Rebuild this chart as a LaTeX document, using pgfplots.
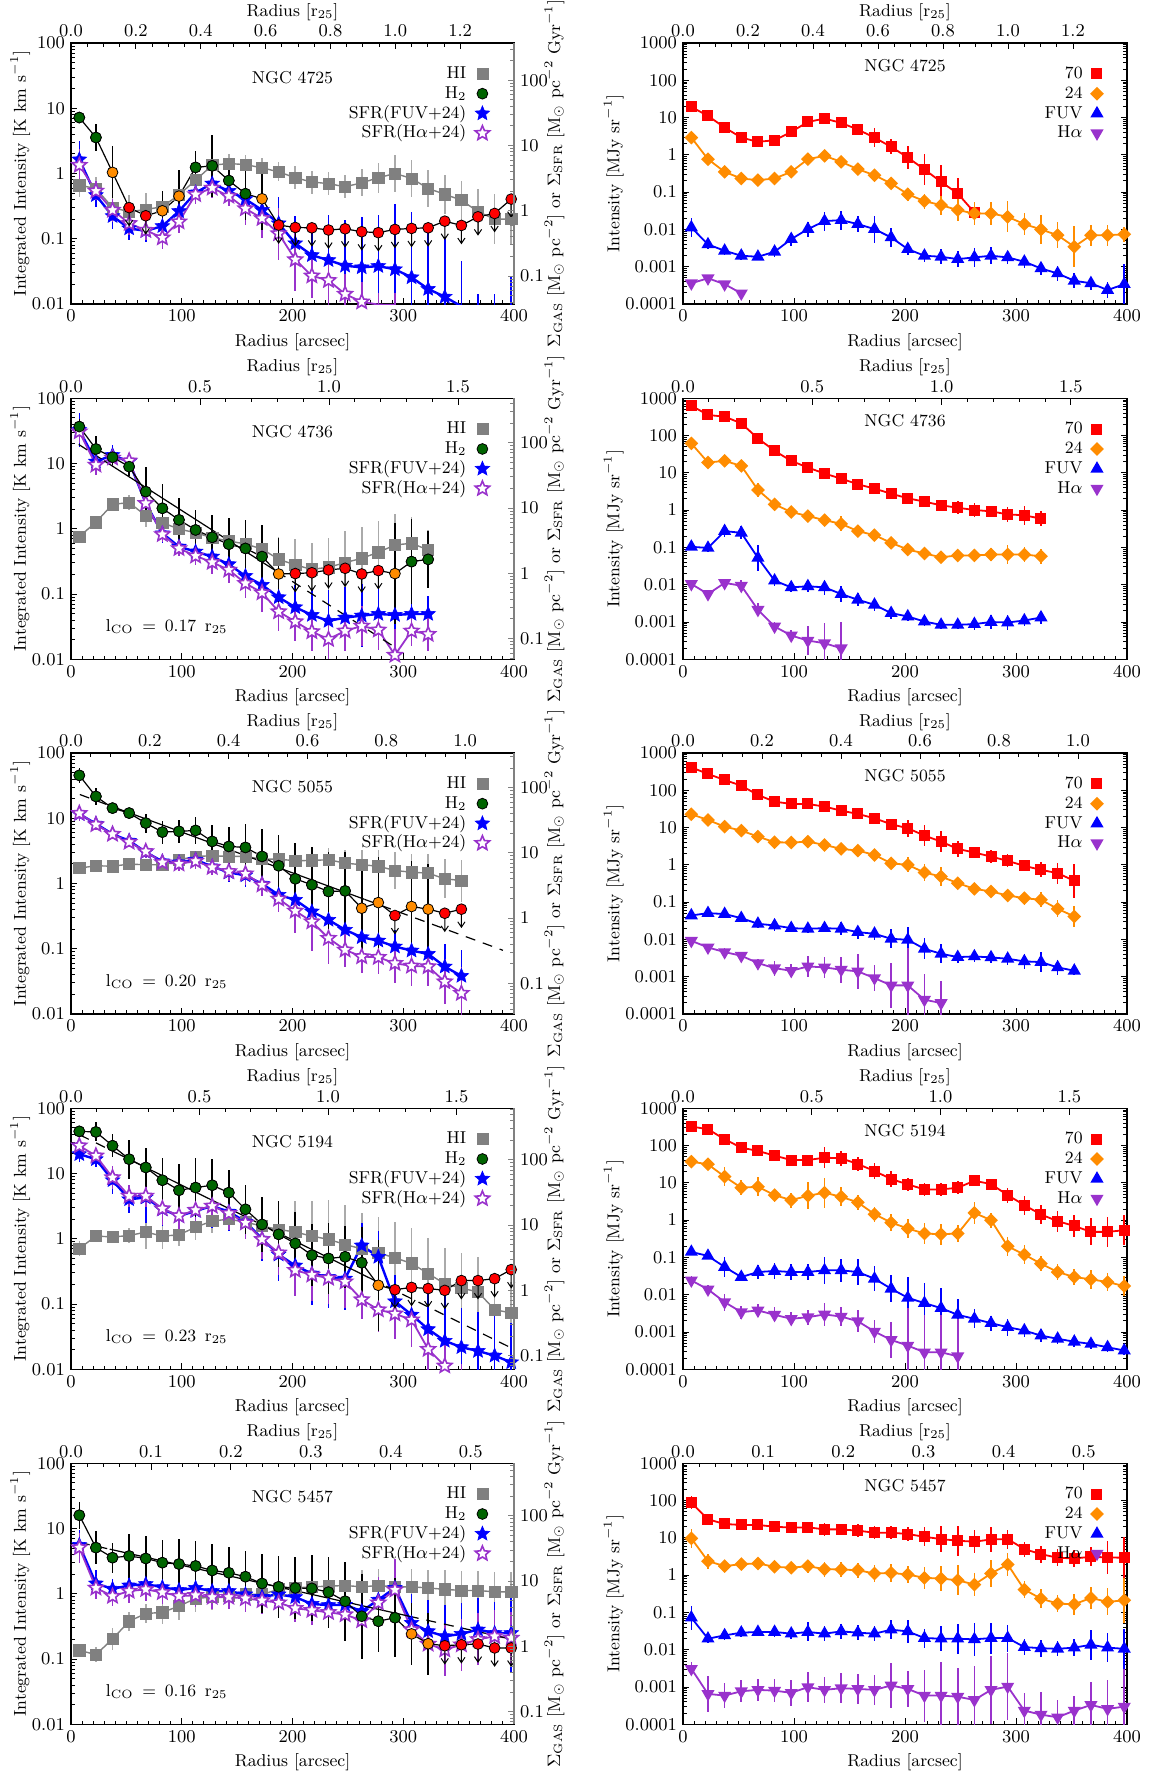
\documentclass[border=0pt]{standalone}
\usepackage{pgfplots}
\usepackage{pgfplotstable}
\pgfplotsset{compat=1.18}
\usetikzlibrary{plotmarks}

\definecolor{cHI}{RGB}{128,128,128}
\definecolor{cHIe}{RGB}{170,170,170}
\definecolor{cgreen}{RGB}{0,100,0}
\definecolor{corange}{RGB}{255,140,0}
\definecolor{cred}{RGB}{255,0,0}
\definecolor{cblue}{RGB}{0,0,255}
\definecolor{cpurple}{RGB}{153,50,204}

\newcommand\fsz{\fontsize{8.6}{10}\selectfont}

\pgfdeclareplotmark{fstar}{%
  \pgfpathmoveto{\pgfpointpolar{90}{\pgfplotmarksize}}%
  \pgfpathlineto{\pgfpointpolar{126}{0.45\pgfplotmarksize}}%
  \pgfpathlineto{\pgfpointpolar{162}{\pgfplotmarksize}}%
  \pgfpathlineto{\pgfpointpolar{198}{0.45\pgfplotmarksize}}%
  \pgfpathlineto{\pgfpointpolar{234}{\pgfplotmarksize}}%
  \pgfpathlineto{\pgfpointpolar{270}{0.45\pgfplotmarksize}}%
  \pgfpathlineto{\pgfpointpolar{306}{\pgfplotmarksize}}%
  \pgfpathlineto{\pgfpointpolar{342}{0.45\pgfplotmarksize}}%
  \pgfpathlineto{\pgfpointpolar{18}{\pgfplotmarksize}}%
  \pgfpathlineto{\pgfpointpolar{54}{0.45\pgfplotmarksize}}%
  \pgfpathclose\pgfusepathqfillstroke}
\pgfdeclareplotmark{sdiamond}{%
  \pgfpathmoveto{\pgfqpoint{0pt}{\pgfplotmarksize}}%
  \pgfpathlineto{\pgfqpoint{\pgfplotmarksize}{0pt}}%
  \pgfpathlineto{\pgfqpoint{0pt}{-\pgfplotmarksize}}%
  \pgfpathlineto{\pgfqpoint{-\pgfplotmarksize}{0pt}}%
  \pgfpathclose\pgfusepathqfillstroke}
\pgfdeclareplotmark{dtri}{%
  \pgfpathmoveto{\pgfpointpolar{-90}{\pgfplotmarksize}}%
  \pgfpathlineto{\pgfpointpolar{30}{\pgfplotmarksize}}%
  \pgfpathlineto{\pgfpointpolar{150}{\pgfplotmarksize}}%
  \pgfpathclose\pgfusepathqfillstroke}
\pgfdeclareplotmark{darrow}{%
  \pgfpathmoveto{\pgfqpoint{0pt}{0pt}}%
  \pgfpathlineto{\pgfqpoint{0pt}{-9pt}}%
  \pgfpathmoveto{\pgfqpoint{-1.8pt}{-6.3pt}}%
  \pgfpathlineto{\pgfqpoint{0pt}{-9pt}}%
  \pgfpathlineto{\pgfqpoint{1.8pt}{-6.3pt}}%
  \pgfusepathqstroke}

\pgfplotsset{
  legend image code/.code={\draw[#1] plot coordinates {(0pt,0pt)};},
  every axis/.append style={scale only axis, height=130.5pt, anchor=south west, tick align=inside, major tick length=3.2pt, minor tick length=1.8pt, axis line style={line width=0.55pt}, tick label style={font=\fsz}, label style={font=\fsz}, legend cell align=right, legend plot pos=right},
  every tick/.append style={black, line width=0.45pt},
  every axis legend/.append style={draw=none, fill=none, at={(rel axis cs:0.945,0.915)}, anchor=north east, inner sep=0pt, outer sep=0pt, row sep=1.2pt, column sep=4pt, font=\fsz, nodes={inner sep=0.4pt, text height=6.3pt, text depth=1.6pt}},
  myHI/.style={cHI, line width=0.7pt, mark=square*, mark size=2.8pt, mark options={solid, fill=cHI, draw=cHI, line width=0.3pt}, error bars/y dir=both, error bars/y explicit, error bars/error mark=none, error bars/error bar style={line width=0.8pt, solid, cHIe}},
  myHH/.style={black, line width=0.6pt, mark=none, error bars/y dir=both, error bars/y explicit, error bars/error mark=none, error bars/error bar style={line width=0.8pt, solid}},
  myFU/.style={cblue, line width=1.2pt, mark=fstar, mark size=3.8pt, mark options={solid, fill=cblue, draw=cblue, line width=0.3pt}, error bars/y dir=both, error bars/y explicit, error bars/error mark=none, error bars/error bar style={line width=0.8pt, solid}},
  myHA/.style={cpurple, line width=0.9pt, mark=fstar, mark size=3.8pt, mark options={solid, fill=white, draw=cpurple, line width=0.8pt}, error bars/y dir=both, error bars/y explicit, error bars/error mark=none, error bars/error bar style={line width=0.8pt, solid}},
  myGr/.style={only marks, mark=*, mark size=2.7pt, mark options={fill=cgreen, draw=black, line width=0.4pt}},
  myOr/.style={only marks, mark=*, mark size=2.7pt, mark options={fill=corange, draw=black, line width=0.4pt}},
  myRd/.style={only marks, mark=*, mark size=2.7pt, mark options={fill=cred, draw=black, line width=0.4pt}},
  myAr/.style={only marks, mark=darrow, mark options={draw=black, line width=0.5pt}},
  mySE/.style={cred, line width=0.9pt, mark=square*, mark size=2.3pt, mark options={solid, fill=cred, draw=cred}, error bars/y dir=both, error bars/y explicit, error bars/error mark=none, error bars/error bar style={line width=0.8pt, solid}},
  myTF/.style={corange, line width=0.9pt, mark=sdiamond, mark size=2.8pt, mark options={solid, fill=corange, draw=corange}, error bars/y dir=both, error bars/y explicit, error bars/error mark=none, error bars/error bar style={line width=0.8pt, solid}},
  myFR/.style={cblue, line width=0.9pt, mark=triangle*, mark size=2.9pt, mark options={solid, fill=cblue, draw=cblue}, error bars/y dir=both, error bars/y explicit, error bars/error mark=none, error bars/error bar style={line width=0.8pt, solid}},
  myHR/.style={cpurple, line width=0.9pt, mark=dtri, mark size=2.9pt, mark options={solid, fill=cpurple, draw=cpurple}, error bars/y dir=both, error bars/y explicit, error bars/error mark=none, error bars/error bar style={line width=0.8pt, solid}},
  myfitS/.style={black, line width=0.6pt, mark=none},
  myfitD/.style={black, line width=0.6pt, mark=none, dash pattern=on 5pt off 4pt},
}

% ================= NGC 4725 =================
\pgfplotstableread{
x y f
7.5 0.66 1.5
22.5 0.59 1.5
37.5 0.30 1.6
52.5 0.26 1.8
67.5 0.28 1.8
82.5 0.31 1.7
97.5 0.47 1.7
112.5 0.79 1.6
127.5 1.34 1.5
142.5 1.42 1.4
157.5 1.37 1.4
172.5 1.22 1.4
187.5 1.06 1.4
202.5 0.86 1.5
217.5 0.74 1.5
232.5 0.70 1.5
247.5 0.625 1.5
262.5 0.72 1.6
277.5 0.86 1.7
292.5 1.00 1.9
307.5 0.84 1.9
322.5 0.59 1.9
337.5 0.48 2.0
352.5 0.39 2.0
367.5 0.26 2.2
382.5 0.20 2.4
397.5 0.20 2.4
}\aHI
\pgfplotstableread{
x y f c
7.5 7.2 1.2 0
22.5 3.56 1.6 0
37.5 1.04 2.5 1
52.5 0.30 1 2
67.5 0.225 1 2
82.5 0.268 2.0 1
97.5 0.45 2.5 1
112.5 1.24 1.8 0
127.5 1.31 3.0 0
142.5 0.78 2.0 0
157.5 0.49 2.5 0
172.5 0.41 3.0 1
187.5 0.162 1 2
202.5 0.149 1 2
217.5 0.147 1 2
232.5 0.136 1 2
247.5 0.142 1 2
262.5 0.128 1 2
277.5 0.124 1 2
292.5 0.139 1 2
307.5 0.144 1 2
322.5 0.147 1 2
337.5 0.186 1 2
352.5 0.16 1 2
367.5 0.217 1 2
382.5 0.244 1 2
397.5 0.405 1 2
}\aHH
\pgfplotstableread{
x y f
7.5 1.64 1.9
22.5 0.466 1.5
37.5 0.222 1.6
52.5 0.144 1.5
67.5 0.132 1.5
82.5 0.156 1.5
97.5 0.265 1.5
112.5 0.51 1.4
127.5 0.70 1.4
142.5 0.54 1.4
157.5 0.405 1.6
172.5 0.275 1.8
187.5 0.172 2.5
202.5 0.085 2.6
217.5 0.056 3
232.5 0.047 5
247.5 0.0386 5
262.5 0.0364 6
277.5 0.0381 6
292.5 0.034 10
307.5 0.0256 10
322.5 0.017 10
337.5 0.0129 8
352.5 0.0092 5
367.5 0.006 2.4
382.5 0.004 3.5
397.5 0.003 9
}\aFU
\pgfplotstableread{
x y f
7.5 1.34 1.8
22.5 0.54 1.4
37.5 0.275 1.5
52.5 0.172 1.5
67.5 0.135 1.4
82.5 0.1036 1.5
97.5 0.182 1.5
112.5 0.477 1.4
127.5 0.60 1.4
142.5 0.45 1.4
157.5 0.29 1.8
172.5 0.205 2
187.5 0.12 2.5
202.5 0.048 3
217.5 0.027 2.2
232.5 0.023 2.5
247.5 0.0142 2
262.5 0.0108 2
277.5 0.0098 1.5
292.5 0.0097 1.5
}\aHA
\pgfplotstableread{
x y f
7.5 19.3 1.15
22.5 11.1 1.1
37.5 5.4 1.15
52.5 2.91 1.15
67.5 2.23 1.15
82.5 2.47 1.2
97.5 4.13 1.25
112.5 7.65 1.3
127.5 9.4 1.4
142.5 7.2 1.4
157.5 4.77 1.4
172.5 2.91 1.8
187.5 1.64 1.6
202.5 0.85 2.0
217.5 0.405 2.6
232.5 0.189 2.8
247.5 0.092 2.6
262.5 0.0285 1.6
}\aSE
\pgfplotstableread{
x y f
7.5 2.91 1.5
22.5 0.766 1.2
37.5 0.35 1.2
52.5 0.232 1.15
67.5 0.21 1.15
82.5 0.232 1.2
97.5 0.35 1.25
112.5 0.766 1.35
127.5 0.94 1.45
142.5 0.65 1.45
157.5 0.413 1.4
172.5 0.285 1.5
187.5 0.171 1.4
202.5 0.088 1.5
217.5 0.0574 1.6
232.5 0.0449 1.8
247.5 0.033 2.0
262.5 0.0268 2.0
277.5 0.0268 2.0
292.5 0.0218 2.6
307.5 0.0139 2.0
322.5 0.01 2.5
337.5 0.0070 2.2
352.5 0.00343 3.5
367.5 0.0070 1.9
382.5 0.0070 1.9
397.5 0.0074 1.6
}\aTF
\pgfplotstableread{
x y f
7.5 0.0113 1.8
22.5 0.00396 1.3
37.5 0.00268 1.3
52.5 0.00197 1.3
67.5 0.00185 1.2
82.5 0.00252 1.4
97.5 0.0055 1.5
112.5 0.0102 1.6
127.5 0.0167 1.8
142.5 0.0178 1.8
157.5 0.0139 1.6
172.5 0.0102 2.3
187.5 0.0061 1.8
202.5 0.00297 1.4
217.5 0.00197 1.5
232.5 0.00185 1.6
247.5 0.0016 1.6
262.5 0.00178 1.8
277.5 0.00197 1.7
292.5 0.00178 1.5
307.5 0.00136 1.5
322.5 0.0009 1.5
337.5 0.00066 1.6
352.5 0.00042 1.6
367.5 0.00036 1.5
382.5 0.000237 1.6
397.5 0.00034 3.5
}\aFR
\pgfplotstableread{
x y f
7.5 0.00036 1.1
22.5 0.00049 1.1
37.5 0.00034 1.1
52.5 0.000193 1.1
}\aHR

% ================= NGC 4736 =================
\pgfplotstableread{
x y f
7.5 0.76 1.15
22.5 1.26 1.15
37.5 2.37 1.2
52.5 2.52 1.3
67.5 1.59 1.5
82.5 1.24 1.5
97.5 0.99 1.5
112.5 0.87 1.6
127.5 0.73 1.7
142.5 0.65 1.8
157.5 0.586 1.8
172.5 0.49 2
187.5 0.341 2.2
202.5 0.279 2.5
217.5 0.239 2.5
232.5 0.257 2.8
247.5 0.303 3
262.5 0.353 3
277.5 0.436 3
292.5 0.565 3
307.5 0.60 2.5
322.5 0.474 2
}\bHI
\pgfplotstableread{
x y f c
7.5 36.8 1.3 0
22.5 16.7 1.6 0
37.5 12.5 1.3 0
52.5 8.97 1.4 0
67.5 3.71 2.4 0
82.5 2.06 2.4 0
97.5 1.37 2.2 0
112.5 0.96 2.0 0
127.5 0.74 2.2 0
142.5 0.58 2.5 0
157.5 0.50 2.7 0
172.5 0.375 3 0
187.5 0.203 3.5 1
202.5 0.206 1 2
217.5 0.212 1 2
232.5 0.234 1 2
247.5 0.248 1 2
262.5 0.203 1 2
277.5 0.229 1 2
292.5 0.206 6 1
307.5 0.314 4.5 0
322.5 0.34 2.7 0
}\bHH
\pgfplotstableread{
x y f
7.5 32.7 1.8
22.5 10.7 1.5
37.5 13.5 1.4
52.5 10.7 1.3
67.5 2.46 1.5
82.5 0.85 1.4
97.5 0.533 1.3
112.5 0.447 1.3
127.5 0.375 1.4
142.5 0.286 1.5
157.5 0.189 1.6
172.5 0.138 1.8
187.5 0.0892 2.0
202.5 0.0627 2.2
217.5 0.0478 2.5
232.5 0.0387 3
247.5 0.0435 3
262.5 0.0467 3
277.5 0.0495 3
292.5 0.0478 4
307.5 0.0495 2
322.5 0.0495 1.9
}\bFU
\pgfplotstableread{
x y f
7.5 30.8 1.5
22.5 9.5 1.4
37.5 12.2 1.4
52.5 11 1.3
67.5 2.46 1.4
82.5 0.82 1.3
97.5 0.50 1.3
112.5 0.384 1.4
127.5 0.307 1.5
142.5 0.234 1.6
157.5 0.146 1.7
172.5 0.105 2
187.5 0.0538 2
202.5 0.0378 2
217.5 0.0266 2
232.5 0.0203 2
247.5 0.0272 2
262.5 0.0324 2
277.5 0.0282 2
292.5 0.0116 2.5
307.5 0.0272 1.7
322.5 0.0242 1.8
}\bHA
\pgfplotstableread{
x y f
7.5 637 1.2
22.5 357 1.15
37.5 322 1.15
52.5 213 1.3
67.5 84 1.3
82.5 39 1.3
97.5 21 1.3
112.5 13.9 1.3
127.5 9.6 1.3
142.5 7.0 1.35
157.5 4.95 1.4
172.5 3.78 1.4
187.5 2.77 1.4
202.5 2.08 1.3
217.5 1.69 1.4
232.5 1.35 1.4
247.5 1.16 1.5
262.5 1.01 1.5
277.5 0.93 1.4
292.5 0.77 1.6
307.5 0.73 1.8
322.5 0.59 1.6
}\bSE
\pgfplotstableread{
x y f
7.5 61.7 1.5
22.5 19.0 1.2
37.5 21 1.2
52.5 15.4 1.4
67.5 3.48 1.5
82.5 1.43 1.3
97.5 0.89 1.2
112.5 0.695 1.2
127.5 0.54 1.3
142.5 0.43 1.6
157.5 0.274 1.3
172.5 0.214 1.3
187.5 0.133 1.3
202.5 0.088 1.3
217.5 0.0687 1.4
232.5 0.0547 1.4
247.5 0.061 1.4
262.5 0.061 1.4
277.5 0.0645 1.5
292.5 0.0645 1.8
307.5 0.0645 1.6
322.5 0.058 1.6
}\bTF
\pgfplotstableread{
x y f
7.5 0.104 1.2
22.5 0.097 1.3
37.5 0.274 1.4
52.5 0.247 1.5
67.5 0.0525 2.2
82.5 0.0129 1.4
97.5 0.0085 1.3
112.5 0.0091 1.4
127.5 0.0085 1.6
142.5 0.00563 1.6
157.5 0.00396 1.5
172.5 0.0029 1.5
187.5 0.00173 1.4
202.5 0.00141 1.3
217.5 0.00103 1.3
232.5 0.00084 1.3
247.5 0.00084 1.3
262.5 0.00088 1.4
277.5 0.001 1.5
292.5 0.00097 1.6
307.5 0.0011 1.4
322.5 0.00132 1.5
}\bFR
\pgfplotstableread{
x y f
7.5 0.0105 1.3
22.5 0.00563 1.2
37.5 0.0112 1.3
52.5 0.0094 1.4
67.5 0.00213 1.5
82.5 0.00076 1.3
97.5 0.000434 1.4
112.5 0.000318 2.5
127.5 0.00027 3.5
142.5 0.000198 5
}\bHR

% ================= NGC 5055 =================
\pgfplotstableread{
x y f
7.5 1.72 1.1
22.5 1.87 1.1
37.5 1.84 1.1
52.5 1.98 1.1
67.5 1.94 1.1
82.5 1.94 1.1
97.5 2.31 1.15
112.5 2.6 1.2
127.5 2.66 1.2
142.5 2.6 1.2
157.5 2.6 1.2
172.5 2.36 1.3
187.5 2.36 1.3
202.5 2.23 1.3
217.5 2.26 1.4
232.5 2.31 1.5
247.5 2.05 1.6
262.5 1.94 1.7
277.5 1.84 1.8
292.5 1.58 1.9
307.5 1.49 1.9
322.5 1.44 2
337.5 1.18 2
352.5 1.11 2.1
}\cHI
\pgfplotstableread{
x y f c
7.5 45.4 1.3 0
22.5 21.6 1.35 0
37.5 14.3 1.15 0
52.5 12.0 1.15 0
67.5 8.43 1.4 0
82.5 6.13 1.5 0
97.5 6.3 1.5 0
112.5 6.5 1.6 0
127.5 4.41 1.8 0
142.5 3.7 2 0
157.5 3.57 2.3 0
172.5 2.6 2.6 0
187.5 1.87 3 0
202.5 1.18 3.5 0
217.5 0.955 3.8 0
232.5 0.754 4 0
247.5 0.77 4 0
262.5 0.418 5 1
277.5 0.51 5 1
292.5 0.323 1 2
307.5 0.444 5 1
322.5 0.404 5 1
337.5 0.35 1 2
352.5 0.404 1 2
}\cHH
\pgfplotstableread{
x y f
7.5 11.6 1.3
22.5 8.24 1.2
37.5 5.71 1.2
52.5 4.52 1.2
67.5 3.03 1.25
82.5 2.18 1.25
97.5 2.1 1.25
112.5 2.31 1.3
127.5 1.82 1.3
142.5 1.48 1.4
157.5 1.33 1.5
172.5 0.99 1.5
187.5 0.67 1.6
202.5 0.561 2.2
217.5 0.372 2.8
232.5 0.277 3.5
247.5 0.195 2.5
262.5 0.15 1.8
277.5 0.133 1.8
292.5 0.108 1.8
307.5 0.0937 2
322.5 0.0833 2
337.5 0.0533 2.2
352.5 0.0383 2.5
}\cFU
\pgfplotstableread{
x y f
7.5 11.9 1.3
22.5 8.0 1.2
37.5 5.7 1.2
52.5 4.31 1.2
67.5 3.1 1.25
82.5 2.1 1.3
97.5 2.0 1.3
112.5 2.2 1.3
127.5 1.77 1.3
142.5 1.53 1.4
157.5 1.41 1.5
172.5 0.955 1.5
187.5 0.58 1.6
202.5 0.38 2.2
217.5 0.26 2.8
232.5 0.145 2.5
247.5 0.096 1.8
262.5 0.0758 1.8
277.5 0.074 1.8
292.5 0.0599 2
307.5 0.0545 2
322.5 0.0533 2
337.5 0.0313 2.2
352.5 0.0208 2.5
}\cHA
\pgfplotstableread{
x y f
7.5 413 1.2
22.5 274 1.15
37.5 189 1.15
52.5 133 1.2
67.5 75 1.3
82.5 49.7 1.2
97.5 43 1.2
112.5 43 1.2
127.5 36.5 1.2
142.5 28.5 1.3
157.5 23.2 1.4
172.5 17.8 1.4
187.5 12.3 1.4
202.5 9.6 1.7
217.5 6.1 1.9
232.5 4.2 1.9
247.5 2.68 1.6
262.5 2.14 1.4
277.5 1.67 1.5
292.5 1.28 1.5
307.5 0.94 1.4
322.5 0.735 1.6
337.5 0.6 1.9
352.5 0.373 2.8
}\cSE
\pgfplotstableread{
x y f
7.5 22.8 1.2
22.5 16 1.2
37.5 10.6 1.2
52.5 8.3 1.2
67.5 5.74 1.2
82.5 4.05 1.2
97.5 3.96 1.2
112.5 4.2 1.25
127.5 3.43 1.2
142.5 2.68 1.2
157.5 2.42 1.4
172.5 1.85 1.3
187.5 1.1 1.3
202.5 1.0 1.6
217.5 0.623 1.7
232.5 0.487 1.8
247.5 0.323 1.4
262.5 0.228 1.3
277.5 0.193 1.4
292.5 0.151 1.4
307.5 0.128 1.5
322.5 0.1155 1.6
337.5 0.0663 1.7
352.5 0.0413 1.9
}\cTF
\pgfplotstableread{
x y f
7.5 0.044 1.2
22.5 0.0507 1.2
37.5 0.048 1.3
52.5 0.0373 1.3
67.5 0.0263 1.3
82.5 0.0237 1.4
97.5 0.0201 1.3
112.5 0.0193 1.3
127.5 0.0201 1.3
142.5 0.0193 1.5
157.5 0.0157 1.5
172.5 0.0142 1.5
187.5 0.0104 1.8
202.5 0.0098 2.2
217.5 0.0056 1.9
232.5 0.00413 1.8
247.5 0.00336 1.4
262.5 0.0035 1.4
277.5 0.0033 1.4
292.5 0.00303 1.5
307.5 0.00258 1.6
322.5 0.00247 1.9
337.5 0.00178 1.6
352.5 0.00145 1.3
}\cFR
\pgfplotstableread{
x y f
7.5 0.0092 1.3
22.5 0.0061 1.2
37.5 0.00458 1.3
52.5 0.00365 1.3
67.5 0.00232 1.3
82.5 0.0017 1.6
97.5 0.00144 1.5
112.5 0.00189 1.9
127.5 0.00178 1.9
142.5 0.00154 2.2
157.5 0.00139 3
172.5 0.00092 2.2
187.5 0.000586 4
202.5 0.000586 10
217.5 0.000242 5
232.5 0.000197 4
}\cHR

% ================= NGC 5194 =================
\pgfplotstableread{
x y f
7.5 0.71 1.3
22.5 1.10 1.2
37.5 1.07 1.2
52.5 1.12 1.3
67.5 1.27 1.8
82.5 1.10 1.6
97.5 1.15 1.5
112.5 1.51 1.6
127.5 1.87 1.5
142.5 2.0 1.5
157.5 1.8 1.6
172.5 1.57 2
187.5 1.39 2.5
202.5 1.27 3
217.5 1.10 3.5
232.5 0.98 4
247.5 0.82 4
262.5 0.70 3.5
277.5 0.61 3.5
292.5 0.51 3.5
307.5 0.42 3.5
322.5 0.293 3.5
337.5 0.205 3.5
352.5 0.176 3.5
367.5 0.153 3.5
382.5 0.082 3.5
397.5 0.073 3
}\dHI
\pgfplotstableread{
x y f c
7.5 44.3 1.15 0
22.5 43.4 1.4 0
37.5 26.7 1.5 0
52.5 16.6 2 0
67.5 12.4 2 0
82.5 7.9 2.2 0
97.5 5.54 2.5 0
112.5 6.1 2.8 0
127.5 6.62 2.5 0
142.5 5.1 2.2 0
157.5 2.83 2.4 0
172.5 1.66 2.6 0
187.5 1.17 3.2 0
202.5 0.85 3 0
217.5 0.56 3 0
232.5 0.50 3.5 0
247.5 0.53 3 0
262.5 0.43 3.5 0
277.5 0.194 5 1
292.5 0.166 1 2
307.5 0.18 1 2
322.5 0.173 1 2
337.5 0.162 1 2
352.5 0.229 1 2
367.5 0.229 1 2
382.5 0.245 1 2
397.5 0.337 1 2
}\dHH
\pgfplotstableread{
x y f
7.5 19.8 1.3
22.5 16.6 1.3
37.5 7.9 1.6
52.5 4.03 1.6
67.5 4.3 2.5
82.5 2.83 1.8
97.5 2.23 1.8
112.5 2.67 2.2
127.5 3.18 2.2
142.5 2.6 2
157.5 1.83 1.8
172.5 1.0 2.2
187.5 0.574 2.5
202.5 0.389 2.8
217.5 0.293 3
232.5 0.26 3
247.5 0.245 3
262.5 0.79 2.2
277.5 0.528 2.5
292.5 0.11 2.5
307.5 0.0686 3
322.5 0.0412 4
337.5 0.0273 5
352.5 0.0218 4
367.5 0.0191 4
382.5 0.0162 4
397.5 0.0128 4
}\dFU
\pgfplotstableread{
x y f
7.5 26.7 1.3
22.5 18.7 1.3
37.5 8.68 1.5
52.5 4.53 1.5
67.5 4.53 1.5
82.5 2.9 1.8
97.5 2.26 1.8
112.5 2.75 1.8
127.5 3.18 2
142.5 2.46 1.8
157.5 1.76 1.8
172.5 0.98 2
187.5 0.61 2.2
202.5 0.33 2.5
217.5 0.28 2.5
232.5 0.25 2.5
247.5 0.22 2.5
262.5 0.117 2
277.5 0.082 2.2
292.5 0.071 2.4
307.5 0.0574 2.6
322.5 0.0203 2.5
337.5 0.0113 2.5
352.5 0.006 2
}\dHA
\pgfplotstableread{
x y f
7.5 325 1.2
22.5 275 1.15
37.5 148 1.3
52.5 88 1.2
67.5 72 1.3
82.5 53.8 1.3
97.5 41 1.3
112.5 41 1.4
127.5 47.5 1.9
142.5 45.6 1.6
157.5 32.1 1.5
172.5 20.8 1.6
187.5 12.7 1.6
202.5 9.1 1.5
217.5 6.68 1.5
232.5 6.68 1.5
247.5 7.4 1.5
262.5 11.4 1.4
277.5 9.3 1.3
292.5 4.7 1.6
307.5 2.53 1.8
322.5 1.42 1.8
337.5 0.94 1.9
352.5 0.70 2
367.5 0.485 2.3
382.5 0.485 2.5
397.5 0.538 2.5
}\dSE
\pgfplotstableread{
x y f
7.5 37.1 1.3
22.5 31.5 1.2
37.5 14.7 1.8
52.5 7.4 1.6
67.5 7.9 1.8
82.5 4.7 1.5
97.5 3.45 1.6
112.5 4.52 2.3
127.5 5.44 2.5
142.5 4.25 1.8
157.5 2.99 1.6
172.5 1.45 1.6
187.5 0.865 1.7
202.5 0.597 1.8
217.5 0.438 1.9
232.5 0.42 1.9
247.5 0.438 1.7
262.5 1.57 2
277.5 1.0 1.6
292.5 0.2 1.8
307.5 0.119 1.8
322.5 0.0683 1.6
337.5 0.0407 1.6
352.5 0.0299 1.6
367.5 0.0259 1.8
382.5 0.0219 1.7
397.5 0.0171 1.9
}\dTF
\pgfplotstableread{
x y f
7.5 0.1406 1.2
22.5 0.11 1.2
37.5 0.0555 1.9
52.5 0.0299 1.3
67.5 0.0407 1.5
82.5 0.0434 1.6
97.5 0.0407 1.6
112.5 0.0407 1.6
127.5 0.0452 2.3
142.5 0.0452 2
157.5 0.0407 2.2
172.5 0.0269 2.2
187.5 0.0145 2.3
202.5 0.0083 3.5
217.5 0.00597 3.5
232.5 0.00438 3.5
247.5 0.0029 2.7
262.5 0.00226 1.8
277.5 0.00173 1.6
292.5 0.00135 1.7
307.5 0.0011 1.5
322.5 0.0008 1.5
337.5 0.00066 1.4
352.5 0.00055 1.4
367.5 0.00048 1.4
382.5 0.00039 1.3
397.5 0.00032 1.3
}\dFR
\pgfplotstableread{
x y f
7.5 0.0243 1.3
22.5 0.0139 1.3
37.5 0.00635 1.7
52.5 0.00342 1.5
67.5 0.00379 1.5
82.5 0.0029 1.6
97.5 0.00226 1.5
112.5 0.0025 1.6
127.5 0.00296 2
142.5 0.0026 1.8
157.5 0.00195 2
172.5 0.00103 2
187.5 0.000615 3
202.5 0.000433 10
217.5 0.000286 10
232.5 0.000286 10
247.5 0.000224 10
}\dHR

% ================= NGC 5457 =================
\pgfplotstableread{
x y f
7.5 0.136 1.2
22.5 0.117 1.3
37.5 0.203 1.5
52.5 0.38 1.4
67.5 0.498 1.4
82.5 0.52 1.5
97.5 0.646 1.6
112.5 0.85 1.6
127.5 0.89 1.6
142.5 0.92 1.6
157.5 0.98 1.6
172.5 0.98 1.7
187.5 1.17 1.8
202.5 1.23 1.8
217.5 1.28 1.8
232.5 1.31 1.8
247.5 1.34 1.8
262.5 1.28 1.8
277.5 1.34 1.8
292.5 1.28 1.9
307.5 1.28 1.9
322.5 1.23 1.9
337.5 1.17 2
352.5 1.125 2
367.5 1.125 2
382.5 1.07 2
397.5 1.07 2
}\eHI
\pgfplotstableread{
x y f c
7.5 16.0 1.6 0
22.5 5.1 1.8 0
37.5 3.58 1.7 0
52.5 3.8 2.2 0
67.5 3.48 2.2 0
82.5 3.0 2.2 0
97.5 2.86 2.4 0
112.5 2.67 2.4 0
127.5 2.28 2.5 0
142.5 2.1 2.5 0
157.5 1.83 2.5 0
172.5 1.44 2.8 0
187.5 1.28 3 0
202.5 1.23 3 0
217.5 1.21 3.2 0
232.5 1.06 3.5 0
247.5 0.77 4 0
262.5 0.453 4.5 0
277.5 0.38 3 0
292.5 0.43 4 0
307.5 0.243 3 1
322.5 0.172 3 1
337.5 0.16 1 2
352.5 0.166 1 2
367.5 0.17 1 2
382.5 0.148 1 2
397.5 0.148 1 2
}\eHH
\pgfplotstableread{
x y f
7.5 5.6 1.7
22.5 1.44 1.6
37.5 1.19 1.4
52.5 1.34 1.6
67.5 1.41 1.6
82.5 1.26 1.6
97.5 1.14 1.6
112.5 1.23 1.6
127.5 1.10 1.6
142.5 1.10 1.6
157.5 0.98 1.7
172.5 0.90 1.7
187.5 0.98 1.7
202.5 0.89 1.7
217.5 0.70 1.7
232.5 0.67 1.8
247.5 0.68 1.8
262.5 0.54 2
277.5 0.81 2.2
292.5 1.23 2.8
307.5 0.358 2.8
322.5 0.267 3
337.5 0.223 3
352.5 0.243 3
367.5 0.283 3
382.5 0.25 3
397.5 0.25 4
}\eFU
\pgfplotstableread{
x y f
7.5 5.1 1.7
22.5 1.23 1.5
37.5 0.92 1.4
52.5 1.10 1.5
67.5 1.17 1.5
82.5 1.05 1.5
97.5 0.92 1.5
112.5 0.95 1.5
127.5 0.89 1.5
142.5 0.89 1.5
157.5 0.85 1.6
172.5 0.79 1.6
187.5 0.73 1.6
202.5 0.60 1.6
217.5 0.56 1.7
232.5 0.52 1.7
247.5 0.48 1.8
262.5 0.39 2
277.5 0.73 2.5
292.5 1.15 3
307.5 0.283 2.5
322.5 0.17 2.5
337.5 0.139 2.5
352.5 0.166 2.5
367.5 0.2 2.5
382.5 0.223 2.5
397.5 0.21 2.5
}\eHA
\pgfplotstableread{
x y f
7.5 88 1.5
22.5 31.5 1.2
37.5 23.6 1.2
52.5 22.2 1.2
67.5 22.2 1.3
82.5 20 1.2
97.5 18.8 1.3
112.5 19.2 1.4
127.5 16.9 1.5
142.5 16.9 1.4
157.5 15.6 1.5
172.5 13.8 1.5
187.5 13.8 1.5
202.5 12.7 1.5
217.5 10.7 1.8
232.5 9.3 2.2
247.5 8.4 2.5
262.5 7.9 2
277.5 9.1 2.2
292.5 9.3 1.8
307.5 5.0 1.6
322.5 3.67 1.7
337.5 2.93 1.7
352.5 2.81 1.7
367.5 3.11 1.8
382.5 3.0 2.8
397.5 2.93 3.5
}\eSE
\pgfplotstableread{
x y f
7.5 9.7 1.8
22.5 2.38 1.6
37.5 1.75 1.3
52.5 1.98 1.3
67.5 2.06 1.4
82.5 1.68 1.4
97.5 1.58 1.4
112.5 1.75 1.5
127.5 1.45 1.6
142.5 1.42 1.6
157.5 1.36 1.6
172.5 1.11 1.7
187.5 1.15 1.7
202.5 1.04 1.7
217.5 0.85 2
232.5 0.81 2.2
247.5 0.73 2.5
262.5 0.56 2
277.5 1.11 2.3
292.5 1.94 2
307.5 0.41 1.7
322.5 0.235 1.8
337.5 0.173 1.7
352.5 0.166 1.9
367.5 0.245 2
382.5 0.192 2.3
397.5 0.212 4
}\eTF
\pgfplotstableread{
x y f
7.5 0.0726 2.1
22.5 0.0198 1.3
37.5 0.0243 1.3
52.5 0.0287 1.3
67.5 0.03 1.3
82.5 0.03 1.4
97.5 0.027 1.4
112.5 0.03 1.8
127.5 0.027 1.6
142.5 0.0311 1.6
157.5 0.0287 1.6
172.5 0.027 1.6
187.5 0.0345 1.8
202.5 0.0311 2
217.5 0.0206 1.8
232.5 0.0198 2.2
247.5 0.0198 2.5
262.5 0.019 2.8
277.5 0.0206 2.6
292.5 0.0206 2.3
307.5 0.0118 1.6
322.5 0.011 1.7
337.5 0.0106 1.6
352.5 0.0114 1.7
367.5 0.0136 2.5
382.5 0.0114 2.5
397.5 0.0106 3.5
}\eFR
\pgfplotstableread{
x y f
7.5 0.00308 1.5
22.5 0.000655 3
37.5 0.00059 2.2
52.5 0.00077 2
67.5 0.00084 2
82.5 0.0008 2
97.5 0.0007 2.2
112.5 0.00099 2.5
127.5 0.00084 2.2
142.5 0.00093 2.5
157.5 0.00089 2.5
172.5 0.00084 2.5
187.5 0.0011 4
202.5 0.00089 3
217.5 0.00059 5
232.5 0.00059 8
247.5 0.00055 6
262.5 0.00045 8
277.5 0.00084 8
292.5 0.00103 8
307.5 0.000233 3
322.5 0.000182 4
337.5 0.000154 3
352.5 0.000233 2.5
367.5 0.000331 4
382.5 0.000259 6
397.5 0.000299 10
}\eHR

\begin{document}
\fsz
\begin{tikzpicture}
\useasboundingbox (0,0) rectangle (574pt,-885.5pt);

% ---------------- Row 1: NGC 4725 ----------------
\begin{axis}[at={(35.5pt,-152pt)}, width=221.5pt, xmin=0, xmax=400, ymode=log, ymin=0.01, ymax=100, xtick={0,100,200,300,400}, minor x tick num=9, xtick pos=bottom, ytick pos=left, log ticks with fixed point, xlabel={Radius [arcsec]}, ylabel={Integrated Intensity [K km s$^{-1}$]}, ylabel shift=-5pt]
\addplot[myHI] table[y error plus expr={\thisrow{y}*(\thisrow{f}-1)}, y error minus expr={\thisrow{y}*(1-1/\thisrow{f})}]{\aHI};\addlegendentry{HI}
\addplot[myGr, restrict expr to domain={\thisrow{c}}{-0.5:0.5}] table{\aHH};\addlegendentry{H$_2$}
\addplot[myFU] table[y error plus expr={\thisrow{y}*(\thisrow{f}-1)}, y error minus expr={\thisrow{y}*(1-1/\thisrow{f})}]{\aFU};\addlegendentry{SFR(FUV+24)}
\addplot[myHA] table[y error plus expr={\thisrow{y}*(\thisrow{f}-1)}, y error minus expr={\thisrow{y}*(1-1/\thisrow{f})}]{\aHA};\addlegendentry{SFR(H$\alpha$+24)}
\addplot[myHH] table[y error plus expr={\thisrow{y}*(\thisrow{f}-1)}, y error minus expr={\thisrow{y}*(1-1/\thisrow{f})}]{\aHH};
\addplot[myAr, restrict expr to domain={\thisrow{c}}{1.5:2.5}] table{\aHH};
\addplot[myGr, restrict expr to domain={\thisrow{c}}{-0.5:0.5}] table{\aHH};
\addplot[myOr, restrict expr to domain={\thisrow{c}}{0.5:1.5}] table{\aHH};
\addplot[myRd, restrict expr to domain={\thisrow{c}}{1.5:2.5}] table{\aHH};
\node[font=\fsz] at (rel axis cs:0.5,0.867) {NGC 4725};
\end{axis}
\begin{axis}[at={(35.5pt,-152pt)}, width=221.5pt, xmin=0, xmax=1.366, axis x line*=top, xtick={0,0.2,0.4,0.6,0.8,1.0,1.2}, minor x tick num=3, xticklabel style={/pgf/number format/.cd, fixed, fixed zerofill, precision=1}, xlabel={Radius [r$_{25}$]}, xlabel shift=-3.5pt, ymode=log, ymin=0.0373, ymax=373, axis y line*=right, log ticks with fixed point, y axis line style={gray}, ytick style={gray}, ylabel={$\Sigma_{\rm GAS}$ [M$_\odot$ pc$^{-2}$] or $\Sigma_{\rm SFR}$ [M$_\odot$ pc$^{-2}$ Gyr$^{-1}$]}, ylabel shift=-7.5pt]
\end{axis}
\begin{axis}[at={(341.5pt,-152pt)}, width=222pt, xmin=0, xmax=400, ymode=log, ymin=0.0001, ymax=1000, ytick={0.0001,0.001,0.01,0.1,1,10,100,1000}, xtick={0,100,200,300,400}, minor x tick num=9, xtick pos=bottom, ytick pos=both, log ticks with fixed point, /pgf/number format/precision=4, /pgf/number format/1000 sep={}, xlabel={Radius [arcsec]}, ylabel={Intensity [MJy sr$^{-1}$]}, ylabel shift=-5pt]
\addplot[mySE] table[y error plus expr={\thisrow{y}*(\thisrow{f}-1)}, y error minus expr={\thisrow{y}*(1-1/\thisrow{f})}]{\aSE};\addlegendentry{70}
\addplot[myTF] table[y error plus expr={\thisrow{y}*(\thisrow{f}-1)}, y error minus expr={\thisrow{y}*(1-1/\thisrow{f})}]{\aTF};\addlegendentry{24}
\addplot[myFR] table[y error plus expr={\thisrow{y}*(\thisrow{f}-1)}, y error minus expr={\thisrow{y}*(1-1/\thisrow{f})}]{\aFR};\addlegendentry{FUV}
\addplot[myHR] table[y error plus expr={\thisrow{y}*(\thisrow{f}-1)}, y error minus expr={\thisrow{y}*(1-1/\thisrow{f})}]{\aHR};\addlegendentry{H$\alpha$}
\node[font=\fsz] at (rel axis cs:0.5,0.912) {NGC 4725};
\end{axis}
\begin{axis}[at={(341.5pt,-152pt)}, width=222pt, xmin=0, xmax=1.366, axis x line*=top, xtick={0,0.2,0.4,0.6,0.8,1.0,1.2}, minor x tick num=3, xticklabel style={/pgf/number format/.cd, fixed, fixed zerofill, precision=1}, xlabel={Radius [r$_{25}$]}, xlabel shift=-3.5pt, ymin=0, ymax=1, axis y line*=right, ytick=\empty, y axis line style={draw=none}]
\end{axis}

% ---------------- Row 2: NGC 4736 ----------------
\begin{axis}[at={(35.5pt,-329.65pt)}, width=221.5pt, xmin=0, xmax=400, ymode=log, ymin=0.01, ymax=100, xtick={0,100,200,300,400}, minor x tick num=9, xtick pos=bottom, ytick pos=left, log ticks with fixed point, xlabel={Radius [arcsec]}, ylabel={Integrated Intensity [K km s$^{-1}$]}, ylabel shift=-5pt]
\addplot[myHI] table[y error plus expr={\thisrow{y}*(\thisrow{f}-1)}, y error minus expr={\thisrow{y}*(1-1/\thisrow{f})}]{\bHI};\addlegendentry{HI}
\addplot[myGr, restrict expr to domain={\thisrow{c}}{-0.5:0.5}] table{\bHH};\addlegendentry{H$_2$}
\addplot[myFU] table[y error plus expr={\thisrow{y}*(\thisrow{f}-1)}, y error minus expr={\thisrow{y}*(1-1/\thisrow{f})}]{\bFU};\addlegendentry{SFR(FUV+24)}
\addplot[myHA] table[y error plus expr={\thisrow{y}*(\thisrow{f}-1)}, y error minus expr={\thisrow{y}*(1-1/\thisrow{f})}]{\bHA};\addlegendentry{SFR(H$\alpha$+24)}
\addplot[myfitD] coordinates {(7,19.6) (30,11.0)};
\addplot[myfitS] coordinates {(30,11.0) (186,0.221)};
\addplot[myfitD] coordinates {(186,0.221) (290,0.0163)};
\addplot[myHH] table[y error plus expr={\thisrow{y}*(\thisrow{f}-1)}, y error minus expr={\thisrow{y}*(1-1/\thisrow{f})}]{\bHH};
\addplot[myAr, restrict expr to domain={\thisrow{c}}{1.5:2.5}] table{\bHH};
\addplot[myGr, restrict expr to domain={\thisrow{c}}{-0.5:0.5}] table{\bHH};
\addplot[myOr, restrict expr to domain={\thisrow{c}}{0.5:1.5}] table{\bHH};
\addplot[myRd, restrict expr to domain={\thisrow{c}}{1.5:2.5}] table{\bHH};
\node[font=\fsz] at (rel axis cs:0.5,0.873) {NGC 4736};
\node[font=\fsz, anchor=base west] at (rel axis cs:0.065,0.105) {l$_{\rm CO}$ \,=\, 0.17 \,r$_{25}$};
\end{axis}
\begin{axis}[at={(35.5pt,-329.65pt)}, width=221.5pt, xmin=0, xmax=1.717, axis x line*=top, xtick={0,0.5,1.0,1.5}, minor x tick num=4, xticklabel style={/pgf/number format/.cd, fixed, fixed zerofill, precision=1}, xlabel={Radius [r$_{25}$]}, xlabel shift=-3.5pt, ymode=log, ymin=0.048, ymax=480, axis y line*=right, log ticks with fixed point, y axis line style={gray}, ytick style={gray}, ylabel={$\Sigma_{\rm GAS}$ [M$_\odot$ pc$^{-2}$] or $\Sigma_{\rm SFR}$ [M$_\odot$ pc$^{-2}$ Gyr$^{-1}$]}, ylabel shift=-7.5pt]
\end{axis}
\begin{axis}[at={(341.5pt,-329.65pt)}, width=222pt, xmin=0, xmax=400, ymode=log, ymin=0.0001, ymax=1000, ytick={0.0001,0.001,0.01,0.1,1,10,100,1000}, xtick={0,100,200,300,400}, minor x tick num=9, xtick pos=bottom, ytick pos=both, log ticks with fixed point, /pgf/number format/precision=4, /pgf/number format/1000 sep={}, xlabel={Radius [arcsec]}, ylabel={Intensity [MJy sr$^{-1}$]}, ylabel shift=-5pt]
\addplot[mySE] table[y error plus expr={\thisrow{y}*(\thisrow{f}-1)}, y error minus expr={\thisrow{y}*(1-1/\thisrow{f})}]{\bSE};\addlegendentry{70}
\addplot[myTF] table[y error plus expr={\thisrow{y}*(\thisrow{f}-1)}, y error minus expr={\thisrow{y}*(1-1/\thisrow{f})}]{\bTF};\addlegendentry{24}
\addplot[myFR] table[y error plus expr={\thisrow{y}*(\thisrow{f}-1)}, y error minus expr={\thisrow{y}*(1-1/\thisrow{f})}]{\bFR};\addlegendentry{FUV}
\addplot[myHR] table[y error plus expr={\thisrow{y}*(\thisrow{f}-1)}, y error minus expr={\thisrow{y}*(1-1/\thisrow{f})}]{\bHR};\addlegendentry{H$\alpha$}
\node[font=\fsz] at (rel axis cs:0.5,0.915) {NGC 4736};
\end{axis}
\begin{axis}[at={(341.5pt,-329.65pt)}, width=222pt, xmin=0, xmax=1.717, axis x line*=top, xtick={0,0.5,1.0,1.5}, minor x tick num=4, xticklabel style={/pgf/number format/.cd, fixed, fixed zerofill, precision=1}, xlabel={Radius [r$_{25}$]}, xlabel shift=-3.5pt, ymin=0, ymax=1, axis y line*=right, ytick=\empty, y axis line style={draw=none}]
\end{axis}

% ---------------- Row 3: NGC 5055 ----------------
\begin{axis}[at={(35.5pt,-507pt)}, width=221.5pt, xmin=0, xmax=400, ymode=log, ymin=0.01, ymax=100, xtick={0,100,200,300,400}, minor x tick num=9, xtick pos=bottom, ytick pos=left, log ticks with fixed point, xlabel={Radius [arcsec]}, ylabel={Integrated Intensity [K km s$^{-1}$]}, ylabel shift=-5pt]
\addplot[myHI] table[y error plus expr={\thisrow{y}*(\thisrow{f}-1)}, y error minus expr={\thisrow{y}*(1-1/\thisrow{f})}]{\cHI};\addlegendentry{HI}
\addplot[myGr, restrict expr to domain={\thisrow{c}}{-0.5:0.5}] table{\cHH};\addlegendentry{H$_2$}
\addplot[myFU] table[y error plus expr={\thisrow{y}*(\thisrow{f}-1)}, y error minus expr={\thisrow{y}*(1-1/\thisrow{f})}]{\cFU};\addlegendentry{SFR(FUV+24)}
\addplot[myHA] table[y error plus expr={\thisrow{y}*(\thisrow{f}-1)}, y error minus expr={\thisrow{y}*(1-1/\thisrow{f})}]{\cHA};\addlegendentry{SFR(H$\alpha$+24)}
\addplot[myfitD] coordinates {(8,23.1) (35,15.6)};
\addplot[myfitS] coordinates {(35,15.6) (265,0.572)};
\addplot[myfitD] coordinates {(265,0.572) (390,0.0947)};
\addplot[myHH] table[y error plus expr={\thisrow{y}*(\thisrow{f}-1)}, y error minus expr={\thisrow{y}*(1-1/\thisrow{f})}]{\cHH};
\addplot[myAr, restrict expr to domain={\thisrow{c}}{1.5:2.5}] table{\cHH};
\addplot[myGr, restrict expr to domain={\thisrow{c}}{-0.5:0.5}] table{\cHH};
\addplot[myOr, restrict expr to domain={\thisrow{c}}{0.5:1.5}] table{\cHH};
\addplot[myRd, restrict expr to domain={\thisrow{c}}{1.5:2.5}] table{\cHH};
\node[font=\fsz] at (rel axis cs:0.5,0.873) {NGC 5055};
\node[font=\fsz, anchor=base west] at (rel axis cs:0.065,0.105) {l$_{\rm CO}$ \,=\, 0.20 \,r$_{25}$};
\end{axis}
\begin{axis}[at={(35.5pt,-507pt)}, width=221.5pt, xmin=0, xmax=1.124, axis x line*=top, xtick={0,0.2,0.4,0.6,0.8,1.0}, minor x tick num=3, xticklabel style={/pgf/number format/.cd, fixed, fixed zerofill, precision=1}, xlabel={Radius [r$_{25}$]}, xlabel shift=-3.5pt, ymode=log, ymin=0.034, ymax=340, axis y line*=right, log ticks with fixed point, y axis line style={gray}, ytick style={gray}, ylabel={$\Sigma_{\rm GAS}$ [M$_\odot$ pc$^{-2}$] or $\Sigma_{\rm SFR}$ [M$_\odot$ pc$^{-2}$ Gyr$^{-1}$]}, ylabel shift=-7.5pt]
\end{axis}
\begin{axis}[at={(341.5pt,-507pt)}, width=222pt, xmin=0, xmax=400, ymode=log, ymin=0.0001, ymax=1000, ytick={0.0001,0.001,0.01,0.1,1,10,100,1000}, xtick={0,100,200,300,400}, minor x tick num=9, xtick pos=bottom, ytick pos=both, log ticks with fixed point, /pgf/number format/precision=4, /pgf/number format/1000 sep={}, xlabel={Radius [arcsec]}, ylabel={Intensity [MJy sr$^{-1}$]}, ylabel shift=-5pt]
\addplot[mySE] table[y error plus expr={\thisrow{y}*(\thisrow{f}-1)}, y error minus expr={\thisrow{y}*(1-1/\thisrow{f})}]{\cSE};\addlegendentry{70}
\addplot[myTF] table[y error plus expr={\thisrow{y}*(\thisrow{f}-1)}, y error minus expr={\thisrow{y}*(1-1/\thisrow{f})}]{\cTF};\addlegendentry{24}
\addplot[myFR] table[y error plus expr={\thisrow{y}*(\thisrow{f}-1)}, y error minus expr={\thisrow{y}*(1-1/\thisrow{f})}]{\cFR};\addlegendentry{FUV}
\addplot[myHR] table[y error plus expr={\thisrow{y}*(\thisrow{f}-1)}, y error minus expr={\thisrow{y}*(1-1/\thisrow{f})}]{\cHR};\addlegendentry{H$\alpha$}
\node[font=\fsz] at (rel axis cs:0.5,0.915) {NGC 5055};
\end{axis}
\begin{axis}[at={(341.5pt,-507pt)}, width=222pt, xmin=0, xmax=1.124, axis x line*=top, xtick={0,0.2,0.4,0.6,0.8,1.0}, minor x tick num=3, xticklabel style={/pgf/number format/.cd, fixed, fixed zerofill, precision=1}, xlabel={Radius [r$_{25}$]}, xlabel shift=-3.5pt, ymin=0, ymax=1, axis y line*=right, ytick=\empty, y axis line style={draw=none}]
\end{axis}

% ---------------- Row 4: NGC 5194 ----------------
\begin{axis}[at={(35.5pt,-684.65pt)}, width=221.5pt, xmin=0, xmax=400, ymode=log, ymin=0.01, ymax=100, xtick={0,100,200,300,400}, minor x tick num=9, xtick pos=bottom, ytick pos=left, log ticks with fixed point, xlabel={Radius [arcsec]}, ylabel={Integrated Intensity [K km s$^{-1}$]}, ylabel shift=-5pt]
\addplot[myHI] table[y error plus expr={\thisrow{y}*(\thisrow{f}-1)}, y error minus expr={\thisrow{y}*(1-1/\thisrow{f})}]{\dHI};\addlegendentry{HI}
\addplot[myGr, restrict expr to domain={\thisrow{c}}{-0.5:0.5}] table{\dHH};\addlegendentry{H$_2$}
\addplot[myFU] table[y error plus expr={\thisrow{y}*(\thisrow{f}-1)}, y error minus expr={\thisrow{y}*(1-1/\thisrow{f})}]{\dFU};\addlegendentry{SFR(FUV+24)}
\addplot[myHA] table[y error plus expr={\thisrow{y}*(\thisrow{f}-1)}, y error minus expr={\thisrow{y}*(1-1/\thisrow{f})}]{\dHA};\addlegendentry{SFR(H$\alpha$+24)}
\addplot[myfitD] coordinates {(8,39.1) (35,23.2)};
\addplot[myfitS] coordinates {(35,23.2) (270,0.249)};
\addplot[myfitD] coordinates {(270,0.249) (397,0.0215)};
\addplot[myHH] table[y error plus expr={\thisrow{y}*(\thisrow{f}-1)}, y error minus expr={\thisrow{y}*(1-1/\thisrow{f})}]{\dHH};
\addplot[myAr, restrict expr to domain={\thisrow{c}}{1.5:2.5}] table{\dHH};
\addplot[myGr, restrict expr to domain={\thisrow{c}}{-0.5:0.5}] table{\dHH};
\addplot[myOr, restrict expr to domain={\thisrow{c}}{0.5:1.5}] table{\dHH};
\addplot[myRd, restrict expr to domain={\thisrow{c}}{1.5:2.5}] table{\dHH};
\node[font=\fsz] at (rel axis cs:0.5,0.873) {NGC 5194};
\node[font=\fsz, anchor=base west] at (rel axis cs:0.065,0.105) {l$_{\rm CO}$ \,=\, 0.23 \,r$_{25}$};
\end{axis}
\begin{axis}[at={(35.5pt,-684.65pt)}, width=221.5pt, xmin=0, xmax=1.724, axis x line*=top, xtick={0,0.5,1.0,1.5}, minor x tick num=4, xticklabel style={/pgf/number format/.cd, fixed, fixed zerofill, precision=1}, xlabel={Radius [r$_{25}$]}, xlabel shift=-3.5pt, ymode=log, ymin=0.0617, ymax=617, axis y line*=right, log ticks with fixed point, y axis line style={gray}, ytick style={gray}, ylabel={$\Sigma_{\rm GAS}$ [M$_\odot$ pc$^{-2}$] or $\Sigma_{\rm SFR}$ [M$_\odot$ pc$^{-2}$ Gyr$^{-1}$]}, ylabel shift=-7.5pt]
\end{axis}
\begin{axis}[at={(341.5pt,-684.65pt)}, width=222pt, xmin=0, xmax=400, ymode=log, ymin=0.0001, ymax=1000, ytick={0.0001,0.001,0.01,0.1,1,10,100,1000}, xtick={0,100,200,300,400}, minor x tick num=9, xtick pos=bottom, ytick pos=both, log ticks with fixed point, /pgf/number format/precision=4, /pgf/number format/1000 sep={}, xlabel={Radius [arcsec]}, ylabel={Intensity [MJy sr$^{-1}$]}, ylabel shift=-5pt]
\addplot[mySE] table[y error plus expr={\thisrow{y}*(\thisrow{f}-1)}, y error minus expr={\thisrow{y}*(1-1/\thisrow{f})}]{\dSE};\addlegendentry{70}
\addplot[myTF] table[y error plus expr={\thisrow{y}*(\thisrow{f}-1)}, y error minus expr={\thisrow{y}*(1-1/\thisrow{f})}]{\dTF};\addlegendentry{24}
\addplot[myFR] table[y error plus expr={\thisrow{y}*(\thisrow{f}-1)}, y error minus expr={\thisrow{y}*(1-1/\thisrow{f})}]{\dFR};\addlegendentry{FUV}
\addplot[myHR] table[y error plus expr={\thisrow{y}*(\thisrow{f}-1)}, y error minus expr={\thisrow{y}*(1-1/\thisrow{f})}]{\dHR};\addlegendentry{H$\alpha$}
\node[font=\fsz] at (rel axis cs:0.5,0.915) {NGC 5194};
\end{axis}
\begin{axis}[at={(341.5pt,-684.65pt)}, width=222pt, xmin=0, xmax=1.724, axis x line*=top, xtick={0,0.5,1.0,1.5}, minor x tick num=4, xticklabel style={/pgf/number format/.cd, fixed, fixed zerofill, precision=1}, xlabel={Radius [r$_{25}$]}, xlabel shift=-3.5pt, ymin=0, ymax=1, axis y line*=right, ytick=\empty, y axis line style={draw=none}]
\end{axis}

% ---------------- Row 5: NGC 5457 ----------------
\begin{axis}[at={(35.5pt,-862.15pt)}, width=221.5pt, xmin=0, xmax=400, ymode=log, ymin=0.01, ymax=100, xtick={0,100,200,300,400}, minor x tick num=9, xtick pos=bottom, ytick pos=left, log ticks with fixed point, xlabel={Radius [arcsec]}, ylabel={Integrated Intensity [K km s$^{-1}$]}, ylabel shift=-5pt]
\addplot[myHI] table[y error plus expr={\thisrow{y}*(\thisrow{f}-1)}, y error minus expr={\thisrow{y}*(1-1/\thisrow{f})}]{\eHI};\addlegendentry{HI}
\addplot[myGr, restrict expr to domain={\thisrow{c}}{-0.5:0.5}] table{\eHH};\addlegendentry{H$_2$}
\addplot[myFU] table[y error plus expr={\thisrow{y}*(\thisrow{f}-1)}, y error minus expr={\thisrow{y}*(1-1/\thisrow{f})}]{\eFU};\addlegendentry{SFR(FUV+24)}
\addplot[myHA] table[y error plus expr={\thisrow{y}*(\thisrow{f}-1)}, y error minus expr={\thisrow{y}*(1-1/\thisrow{f})}]{\eHA};\addlegendentry{SFR(H$\alpha$+24)}
\addplot[myfitD] coordinates {(8,6.1) (35,4.83)};
\addplot[myfitS] coordinates {(35,4.83) (305,0.455)};
\addplot[myfitD] coordinates {(305,0.455) (397,0.203)};
\addplot[myHH] table[y error plus expr={\thisrow{y}*(\thisrow{f}-1)}, y error minus expr={\thisrow{y}*(1-1/\thisrow{f})}]{\eHH};
\addplot[myAr, restrict expr to domain={\thisrow{c}}{1.5:2.5}] table{\eHH};
\addplot[myGr, restrict expr to domain={\thisrow{c}}{-0.5:0.5}] table{\eHH};
\addplot[myOr, restrict expr to domain={\thisrow{c}}{0.5:1.5}] table{\eHH};
\addplot[myRd, restrict expr to domain={\thisrow{c}}{1.5:2.5}] table{\eHH};
\node[font=\fsz] at (rel axis cs:0.5,0.873) {NGC 5457};
\node[font=\fsz, anchor=base west] at (rel axis cs:0.065,0.105) {l$_{\rm CO}$ \,=\, 0.16 \,r$_{25}$};
\end{axis}
\begin{axis}[at={(35.5pt,-862.15pt)}, width=221.5pt, xmin=0, xmax=0.554, axis x line*=top, xtick={0,0.1,0.2,0.3,0.4,0.5}, minor x tick num=4, xticklabel style={/pgf/number format/.cd, fixed, fixed zerofill, precision=1}, xlabel={Radius [r$_{25}$]}, xlabel shift=-3.5pt, ymode=log, ymin=0.064, ymax=640, axis y line*=right, log ticks with fixed point, y axis line style={gray}, ytick style={gray}, ylabel={$\Sigma_{\rm GAS}$ [M$_\odot$ pc$^{-2}$] or $\Sigma_{\rm SFR}$ [M$_\odot$ pc$^{-2}$ Gyr$^{-1}$]}, ylabel shift=-7.5pt]
\end{axis}
\begin{axis}[at={(341.5pt,-862.15pt)}, width=222pt, xmin=0, xmax=400, ymode=log, ymin=0.0001, ymax=1000, ytick={0.0001,0.001,0.01,0.1,1,10,100,1000}, xtick={0,100,200,300,400}, minor x tick num=9, xtick pos=bottom, ytick pos=both, log ticks with fixed point, /pgf/number format/precision=4, /pgf/number format/1000 sep={}, xlabel={Radius [arcsec]}, ylabel={Intensity [MJy sr$^{-1}$]}, ylabel shift=-5pt]
\addplot[mySE] table[y error plus expr={\thisrow{y}*(\thisrow{f}-1)}, y error minus expr={\thisrow{y}*(1-1/\thisrow{f})}]{\eSE};\addlegendentry{70}
\addplot[myTF] table[y error plus expr={\thisrow{y}*(\thisrow{f}-1)}, y error minus expr={\thisrow{y}*(1-1/\thisrow{f})}]{\eTF};\addlegendentry{24}
\addplot[myFR] table[y error plus expr={\thisrow{y}*(\thisrow{f}-1)}, y error minus expr={\thisrow{y}*(1-1/\thisrow{f})}]{\eFR};\addlegendentry{FUV}
\addplot[myHR] table[y error plus expr={\thisrow{y}*(\thisrow{f}-1)}, y error minus expr={\thisrow{y}*(1-1/\thisrow{f})}]{\eHR};\addlegendentry{H$\alpha$}
\node[font=\fsz] at (rel axis cs:0.5,0.915) {NGC 5457};
\end{axis}
\begin{axis}[at={(341.5pt,-862.15pt)}, width=222pt, xmin=0, xmax=0.554, axis x line*=top, xtick={0,0.1,0.2,0.3,0.4,0.5}, minor x tick num=4, xticklabel style={/pgf/number format/.cd, fixed, fixed zerofill, precision=1}, xlabel={Radius [r$_{25}$]}, xlabel shift=-3.5pt, ymin=0, ymax=1, axis y line*=right, ytick=\empty, y axis line style={draw=none}]
\end{axis}
\end{tikzpicture}
\end{document}
